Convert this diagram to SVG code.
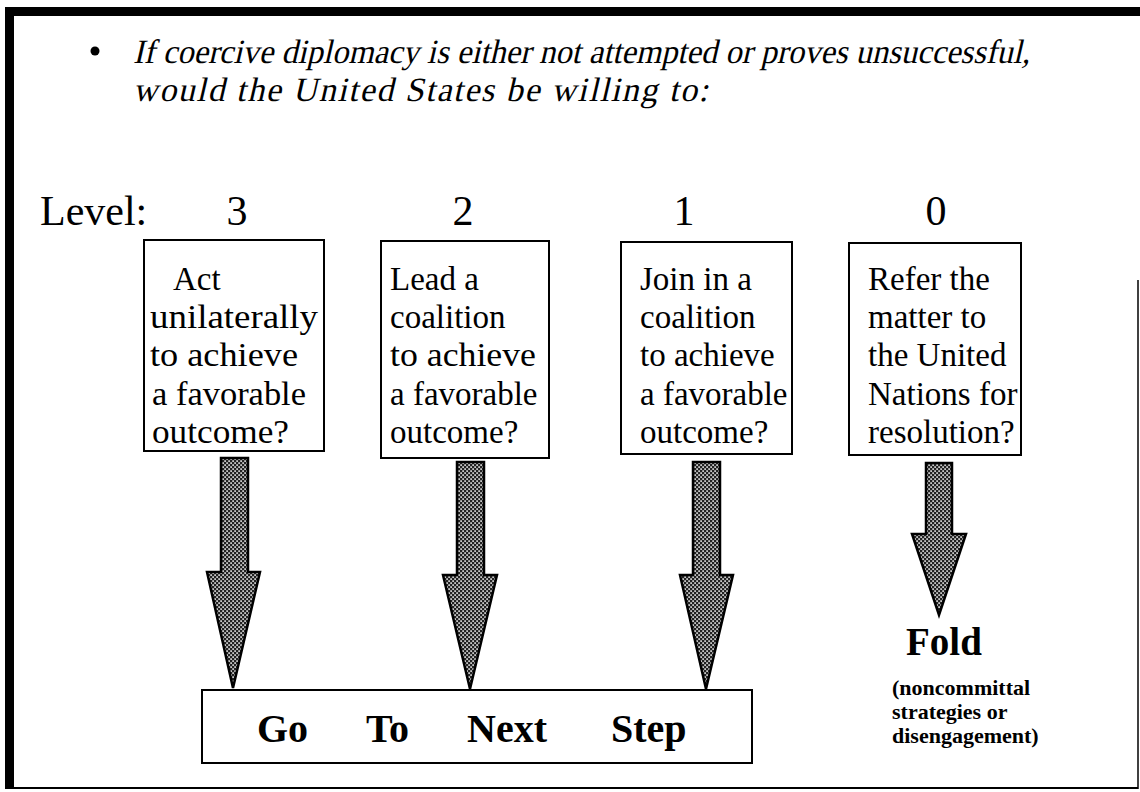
<svg xmlns="http://www.w3.org/2000/svg" width="1140" height="792" viewBox="0 0 1140 792">
<defs>
<pattern id="dots" width="4" height="4" patternUnits="userSpaceOnUse">
<rect width="4" height="4" fill="#222"/>
<rect x="0.3" y="0.3" width="1.6" height="1.6" fill="#eee"/>
<rect x="2.3" y="2.3" width="1.6" height="1.6" fill="#eee"/>
</pattern>
<style>
.serif{font-family:"Liberation Serif","Times New Roman",serif;fill:#000}
.ital{font-family:"Liberation Serif","Times New Roman",serif;font-size:34px;fill:#000}
.box{fill:#fff;stroke:#000;stroke-width:2}
.arrow{fill:url(#dots);stroke:#000;stroke-width:2.5;stroke-linejoin:miter}
.bt{font-size:33px}
.big{font-size:42px}
.bold{font-weight:bold}
</style>
</defs>
<rect width="1140" height="792" fill="#fff"/>
<g id="frame">
<rect x="5" y="7" width="1135" height="9" fill="#000"/>
<rect x="5" y="7" width="9" height="782" fill="#000"/>
<line x1="5" y1="788" x2="1138" y2="788" stroke="#000" stroke-width="2"/>
<line x1="1138" y1="280" x2="1138" y2="789" stroke="#000" stroke-width="1.5"/>
</g>
<g id="title">
<circle cx="95" cy="51" r="4.5" fill="#000"/>
<text class="ital" transform="translate(133,63) skewX(-13)" x="0" y="0" textLength="897" lengthAdjust="spacingAndGlyphs">If coercive diplomacy is either not attempted or proves unsuccessful,</text>
<text class="ital" transform="translate(133,101) skewX(-13)" x="0" y="0" textLength="575" lengthAdjust="spacing">would the United States be willing to:</text>
</g>
<g id="levels" class="serif big">
<text x="40" y="225">Level:</text>
<text x="237" y="225" text-anchor="middle">3</text>
<text x="463" y="225" text-anchor="middle">2</text>
<text x="684" y="225" text-anchor="middle">1</text>
<text x="936" y="225" text-anchor="middle">0</text>
</g>
<g id="connectors">
<path class="arrow" d="M221,458 H248 V572 H260 L233,688 L207,572 H221 Z"/>
<path class="arrow" d="M457,462 H484 V575 H497 L470,689 L443,575 H457 Z"/>
<path class="arrow" d="M693,462 H720 V575 H733 L706,689 L680,575 H693 Z"/>
<path class="arrow" d="M926,463 H952 V534 H966 L939,615 L912,534 H926 Z"/>
</g>
<g id="node-level3">
<rect class="box" x="144" y="240" width="180" height="211"/>
<text class="serif bt"><tspan x="173" y="290">Act</tspan><tspan x="150" y="328" textLength="168" lengthAdjust="spacingAndGlyphs">unilaterally</tspan><tspan x="150" y="366" textLength="148" lengthAdjust="spacingAndGlyphs">to achieve</tspan><tspan x="152" y="405" textLength="154" lengthAdjust="spacingAndGlyphs">a favorable</tspan><tspan x="152" y="443" textLength="137" lengthAdjust="spacingAndGlyphs">outcome?</tspan></text>
</g>
<g id="node-level2">
<rect class="box" x="381" y="241" width="168" height="217"/>
<text class="serif bt"><tspan x="390" y="290">Lead a</tspan><tspan x="390" y="328">coalition</tspan><tspan x="390" y="366" textLength="146" lengthAdjust="spacingAndGlyphs">to achieve</tspan><tspan x="390" y="405">a favorable</tspan><tspan x="390" y="443">outcome?</tspan></text>
</g>
<g id="node-level1">
<rect class="box" x="621" y="242" width="171" height="212"/>
<text class="serif bt"><tspan x="640" y="290">Join in a</tspan><tspan x="640" y="328">coalition</tspan><tspan x="640" y="366">to achieve</tspan><tspan x="640" y="405">a favorable</tspan><tspan x="640" y="443">outcome?</tspan></text>
</g>
<g id="node-level0">
<rect class="box" x="849" y="243" width="172" height="212"/>
<text class="serif bt"><tspan x="868" y="290">Refer the</tspan><tspan x="868" y="328">matter to</tspan><tspan x="868" y="366">the United</tspan><tspan x="868" y="405">Nations for</tspan><tspan x="868" y="443">resolution?</tspan></text>
</g>
<g id="node-next">
<rect class="box" x="202" y="690" width="550" height="73"/>
<text class="serif bold" font-size="40" y="742"><tspan x="257">Go</tspan><tspan x="366">To</tspan><tspan x="467">Next</tspan><tspan x="611">Step</tspan></text>
</g>
<g id="node-fold">
<text class="serif bold" x="906" y="655" font-size="39">Fold</text>
<text class="serif bold" font-size="22"><tspan x="892" y="695">(noncommittal</tspan><tspan x="892" y="719">strategies or</tspan><tspan x="892" y="743">disengagement)</tspan></text>
</g>
</svg>
